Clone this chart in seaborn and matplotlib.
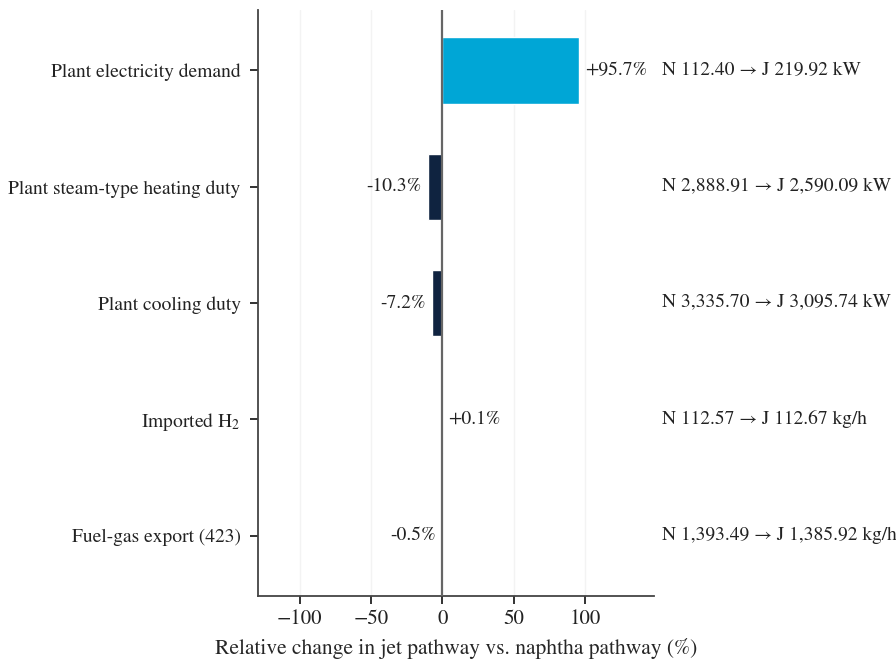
import matplotlib
matplotlib.use("Agg")
import matplotlib.pyplot as plt
import matplotlib.transforms as mtransforms
import seaborn as sns
import pandas as pd

# data
metrics = ["Plant electricity demand", "Plant steam-type heating duty",
           "Plant cooling duty", "Imported H$_2$", "Fuel-gas export (423)"]
pct_change = [95.7, -10.3, -7.2, 0.1, -0.5]
naphtha_vals = ["112.40", "2,888.91", "3,335.70", "112.57", "1,393.49"]
jet_vals = ["219.92", "2,590.09", "3,095.74", "112.67", "1,385.92"]
units = ["kW", "kW", "kW", "kg/h", "kg/h"]

sns.set_theme(style="ticks")
plt.rcParams["font.family"] = ["STIXGeneral", "DejaVu Serif"]
plt.rcParams["mathtext.fontset"] = "stix"
plt.rcParams["font.size"] = 14

df = pd.DataFrame({"metric": metrics, "change": pct_change})
df["sign"] = ["up" if v > 0 else "down" for v in df["change"]]

fig, ax = plt.subplots(figsize=(8.96, 6.61), dpi=100)
fig.subplots_adjust(left=0.288, right=0.730, top=0.985, bottom=0.098)

sns.barplot(data=df, y="metric", x="change", hue="sign", orient="h",
            palette={"up": "#00a6d6", "down": "#0f2340"}, width=0.57,
            saturation=1, dodge=False, legend=False, ax=ax)

ax.set_xlim(-129, 148)
ax.set_ylim(4.52, -0.52)
ax.set_xticks([-100, -50, 0, 50, 100])
for gx in [-100, -50, 50, 100]:
    ax.axvline(gx, color="#f3f3f3", lw=1, zorder=0)
ax.axvline(0, color="#666666", lw=1.6, zorder=3)

sns.despine(ax=ax)
for s in ["left", "bottom"]:
    ax.spines[s].set_color("#444444")
    ax.spines[s].set_linewidth(1.3)
ax.tick_params(axis="y", colors="#222222", labelsize=14, length=6, width=1.3, pad=6.5)
ax.tick_params(axis="x", colors="#222222", labelsize=15, length=6, width=1.3)
ax.set_ylabel("")
ax.set_xlabel("Relative change in jet pathway vs. naphtha pathway (%)", fontsize=15.5, labelpad=6)

pad = mtransforms.ScaledTranslation(6 / 100, 0, fig.dpi_scale_trans)
npad = mtransforms.ScaledTranslation(-6 / 100, 0, fig.dpi_scale_trans)
for i, v in enumerate(pct_change):
    lab = f"{v:+.1f}%"
    if v >= 0:
        ax.text(v, i, lab, ha="left", va="center", fontsize=14,
                transform=ax.transData + pad, color="#222222")
    else:
        ax.text(v, i, lab, ha="right", va="center", fontsize=14,
                transform=ax.transData + npad, color="#222222")

blend = mtransforms.blended_transform_factory(ax.transAxes, ax.transData)
for i in range(len(metrics)):
    ax.text(1.02, i, f"N {naphtha_vals[i]} \u2192 J {jet_vals[i]} {units[i]}",
            ha="left", va="center", fontsize=14, transform=blend,
            color="#222222", clip_on=False)

fig.savefig("out.png", dpi=100)
